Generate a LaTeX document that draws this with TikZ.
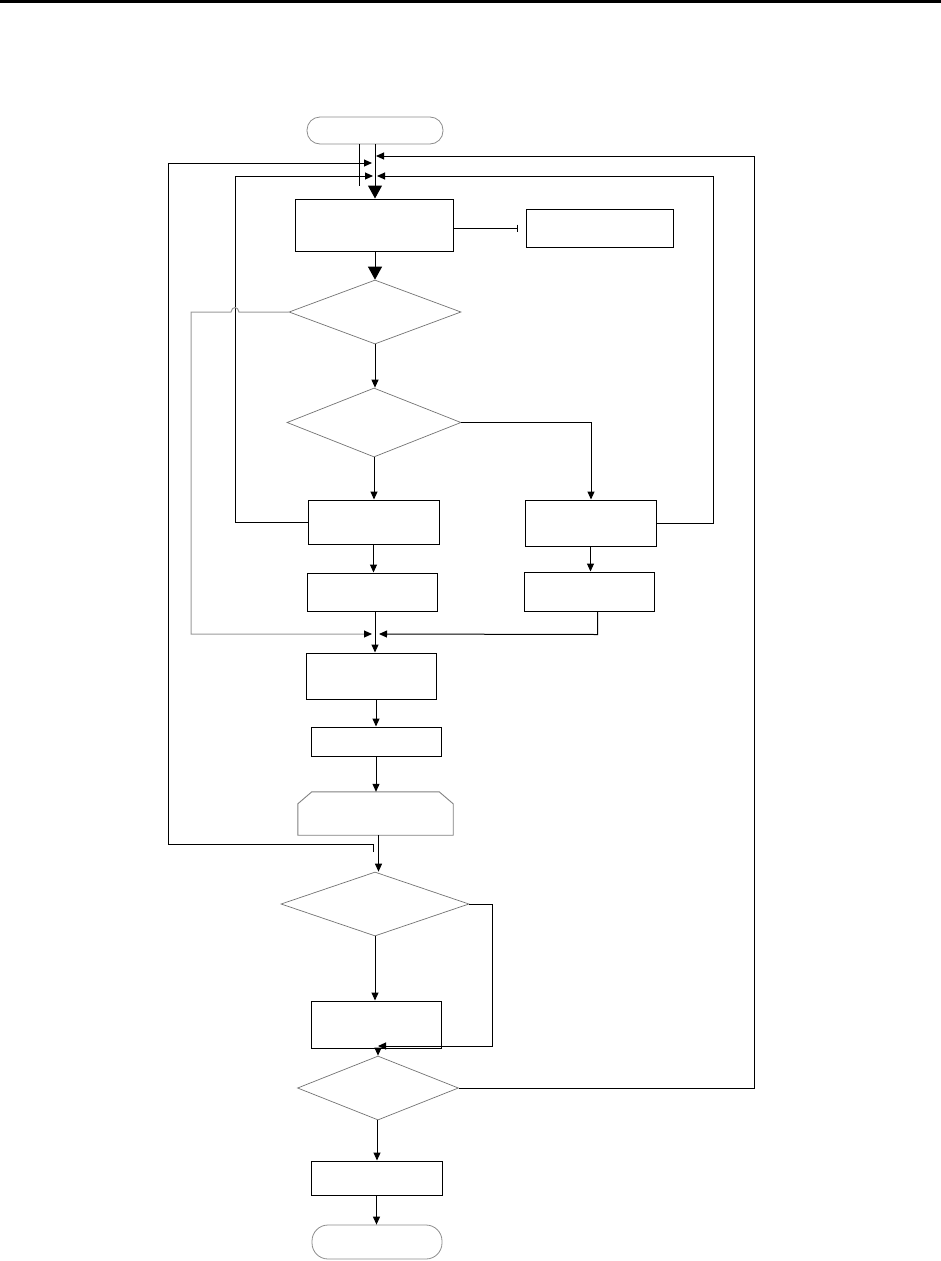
\documentclass[tikz,border=0pt]{standalone}
\usetikzlibrary{shapes.geometric,shapes.misc,arrows.meta}
\begin{document}
\begin{tikzpicture}[x=1pt,y=-1pt,
  box/.style={draw=black,line width=1pt,rectangle,inner sep=0pt},
  term/.style={draw=black!45,line width=0.8pt,rectangle,rounded corners=13pt,inner sep=0pt},
  dec/.style={draw=black!55,line width=0.7pt,diamond,inner sep=0pt},
  prepline/.style={draw=black!50,line width=0.9pt},
  conn/.style={line width=1pt},
  arr/.style={conn,-{Triangle[length=8pt,width=7pt]}},
  bigarr/.style={conn,-{Triangle[length=13pt,width=14pt]}},
  grayconn/.style={draw=black!40,line width=1pt}]
\useasboundingbox (0,0) rectangle (941,1261);
\fill (0,0) rectangle (941,2.5);
% nodes
\node[term,minimum width=136pt,minimum height=27pt] (start) at (375,130.5) {};
\node[box,minimum width=158pt,minimum height=52pt] (b1) at (374,225) {};
\node[box,minimum width=147pt,minimum height=38pt] (b2) at (599.5,228) {};
\node[dec,minimum width=172pt,minimum height=64pt] (d1) at (375,312) {};
\node[dec,minimum width=174pt,minimum height=69pt] (d2) at (374,422.5) {};
\node[box,minimum width=131pt,minimum height=44pt] (b3) at (373.5,522) {};
\node[box,minimum width=131pt,minimum height=46pt] (b4) at (590.5,523) {};
\node[box,minimum width=130pt,minimum height=38pt] (b5) at (372.5,592) {};
\node[box,minimum width=130pt,minimum height=39pt] (b6) at (589.5,591.5) {};
\node[box,minimum width=130pt,minimum height=46pt] (b7) at (371,676) {};
\node[box,minimum width=130pt,minimum height=29pt] (b8) at (376,741.5) {};
\node[rectangle,inner sep=0pt,minimum width=155pt,minimum height=43pt] (b9) at (375.5,813.5) {};
\draw[prepline] (b9.south west) -- ([yshift=-12pt]b9.north west) -- ([xshift=14pt]b9.north west) -- ([xshift=-14pt]b9.north east) -- ([yshift=-12pt]b9.north east) -- (b9.south east) -- cycle;
\node[dec,minimum width=188pt,minimum height=64pt] (d3) at (375,904) {};
\node[box,minimum width=130pt,minimum height=47pt] (b10) at (376,1024.5) {};
\node[dec,minimum width=161pt,minimum height=64pt] (d4) at (378,1088) {};
\node[box,minimum width=131pt,minimum height=34pt] (b11) at (376.5,1178) {};
\node[term,minimum width=130pt,minimum height=34pt,rounded corners=16pt] (end) at (377,1242) {};
% merge coordinates
\coordinate (mR1) at (376,156);
\coordinate (mL1) at (372,163);
\coordinate (mL2) at (373,176);
\coordinate (mR2) at (377,176);
\coordinate (j1L) at (372,634);
\coordinate (j1R) at (379,634);
\coordinate (j2) at (378,1046);
% main flow
\draw[bigarr] (start.south) -- (start.south |- b1.north);
\draw[conn] ([xshift=-16pt]start.south) -- ++(0,42);
\draw[conn,-Bar] (b1.east |- b2.west) -- ([xshift=-8pt]b2.west);
\draw[bigarr] (d1.north |- b1.south) -- (d1.north);
\draw[arr] (d1.south) -- (d1.south |- d2.north);
\draw[arr] (d2.south) -- (d2.south |- b3.north);
\draw[arr] (d2.east) -| ([xshift=0.5pt]b4.north);
\draw[arr] (b3.south) -- (b3.south |- b5.north);
\draw[arr] (b4.south) -- (b4.south |- b6.north);
\draw[arr] ([xshift=2.5pt]b5.south) -- ([xshift=2.5pt]b5.south |- b7.north);
\draw[arr] (b7.south -| b8.north) -- (b8.north);
\draw[arr] (b8.south) -- (b8.south |- b9.north);
\draw[arr] ([xshift=3pt]b9.south) -- ([xshift=3pt]b9.south |- d3.north);
\draw[arr] (d3.south) -- (d3.south |- b10.north);
\draw[arr] ([xshift=2pt]b10.south) -- ([xshift=2pt]b10.south |- d4.north);
\draw[arr] ([xshift=-1pt]d4.south) -- ([xshift=-1pt]d4.south |- b11.north);
\draw[arr] (b11.south) -- (b11.south |- end.north);
% loops
\draw[arr] (d4.east) -- (754,1088) -- (754,156) -- (mR1);
\draw[arr] (373,852) -- (373,844) -- (168,844) -- (168,163) -- (mL1);
\draw[arr] (b3.west) -- (235,522) -- (235,176) -- (mL2);
\draw[arr] (b4.east) -- (713,523) -- (713,176) -- (mR2);
\draw[grayconn] (d1.west) -- (239,312) .. controls (238,306) and (232,306) .. (231,312) -- (191,312) -- (191,634) -- ([xshift=-7pt]j1L);
\draw[arr] ([xshift=-8pt]j1L) -- (j1L);
\draw[arr] ([xshift=8pt]b6.south) -- ++(0,23) -- (j1R);
\draw[arr] (d3.east) -- (492,904) -- (492,1046) -- (j2);
\end{tikzpicture}
\end{document}
